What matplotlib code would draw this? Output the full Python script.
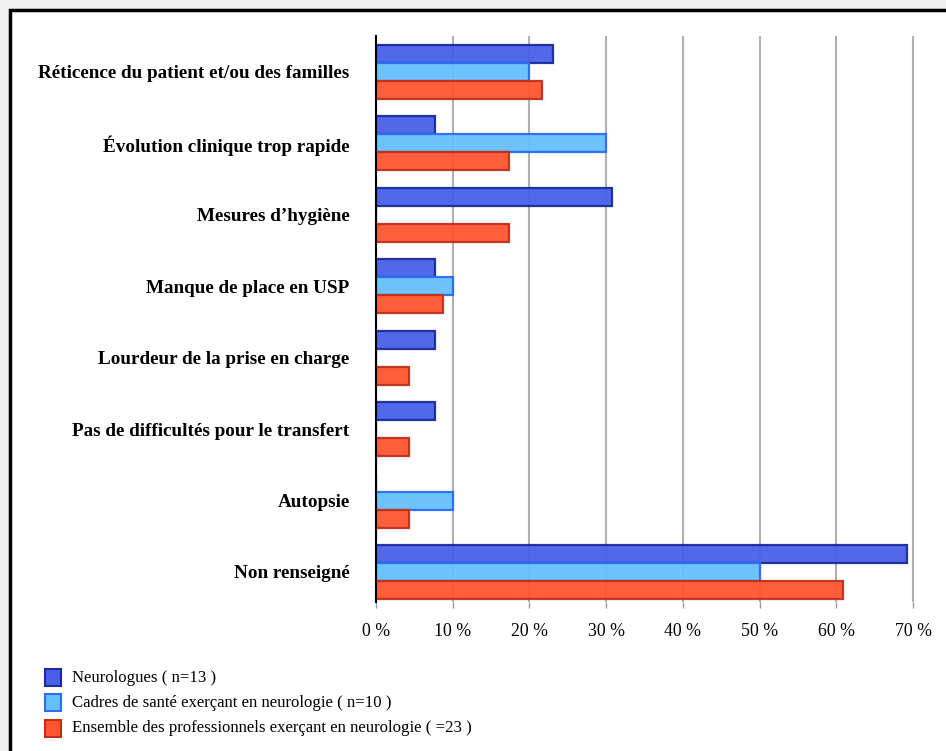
import numpy as np
import matplotlib.pyplot as plt
from matplotlib.patches import Rectangle

categories = [
    "Réticence du patient et/ou des familles",
    "Évolution clinique trop rapide",
    "Mesures d’hygiène",
    "Manque de place en USP",
    "Lourdeur de la prise en charge",
    "Pas de difficultés pour le transfert",
    "Autopsie",
    "Non renseigné",
]
neurologues = [23.1, 7.7, 30.8, 7.7, 7.7, 7.7, 0.0, 69.2]
cadres = [20.0, 30.0, 0.0, 10.0, 0.0, 0.0, 10.0, 50.0]
ensemble = [21.7, 17.4, 17.4, 8.7, 4.3, 4.3, 4.3, 60.9]
series_labels = [
    "Neurologues ( n=13 )",
    "Cadres de santé exerçant en neurologie ( n=10 )",
    "Ensemble des professionnels exerçant en neurologie ( =23 )",
]
x_ticks = [0, 10, 20, 30, 40, 50, 60, 70]

fills = ["#4860e8", "#66c0ff", "#ff5530"]
edges = ["#1c2a9c", "#2b6cf5", "#c0301a"]

plt.rcParams["font.family"] = ["Liberation Serif", "DejaVu Serif"]

W, H = 946, 751
fig = plt.figure(figsize=(W / 100, H / 100), dpi=100)
fig.patch.set_facecolor("#efefef")

# white panel with black frame (clipped by right/bottom edge)
fig.patches.append(Rectangle((10 / W, -0.05), 1.1, 1 - 10 / H + 0.05,
                             transform=fig.transFigure, facecolor="white",
                             edgecolor="black", linewidth=2.5, zorder=-5))

ax_l, ax_r = 376 / W, 1.0
ax_t, ax_b = 1 - 36 / H, 1 - 602 / H
ax = fig.add_axes([ax_l, ax_b, ax_r - ax_l, ax_t - ax_b])
ax.set_facecolor("none")
ax.set_zorder(1)

y = np.arange(len(categories))
h = 0.252
for k, vals in enumerate([neurologues, cadres, ensemble]):
    ax.barh(y + (k - 1) * h, vals, height=h, color=fills[k], edgecolor=edges[k],
            linewidth=1.6, alpha=0.95, zorder=3, label=series_labels[k])

ax.set_xlim(0, 74.3)
ax.set_ylim(7.42, -0.504)
ax.set_xticks(x_ticks)
ax.set_xticklabels([f"{t} %" for t in x_ticks], fontsize=12.8)
ax.set_yticks(y)
ax.set_yticklabels(categories, fontsize=13.8, fontweight="bold")
ax.tick_params(axis="y", length=0, pad=19)
ax.tick_params(axis="x", length=4, width=1, color="#999999", pad=11)
ax.grid(axis="x", color="#b0b0b0", linewidth=1.5, zorder=1)
for s in ["top", "right", "bottom"]:
    ax.spines[s].set_visible(False)
ax.spines["left"].set_linewidth(1.5)
ax.spines["left"].set_zorder(4)

# legend drawn in figure pixels
for k, lab in enumerate(series_labels):
    yc = 1 - (677.5 + 25.3 * k) / H
    fig.patches.append(Rectangle((45 / W, yc - 8.5 / H), 16 / W, 17 / H,
                                 transform=fig.transFigure, facecolor=fills[k],
                                 edgecolor=edges[k], linewidth=1.5, zorder=2))
    fig.text(72 / W, yc, lab, fontsize=12.1, va="center", ha="left")

fig.savefig("out.png", dpi=100, facecolor=fig.get_facecolor())
